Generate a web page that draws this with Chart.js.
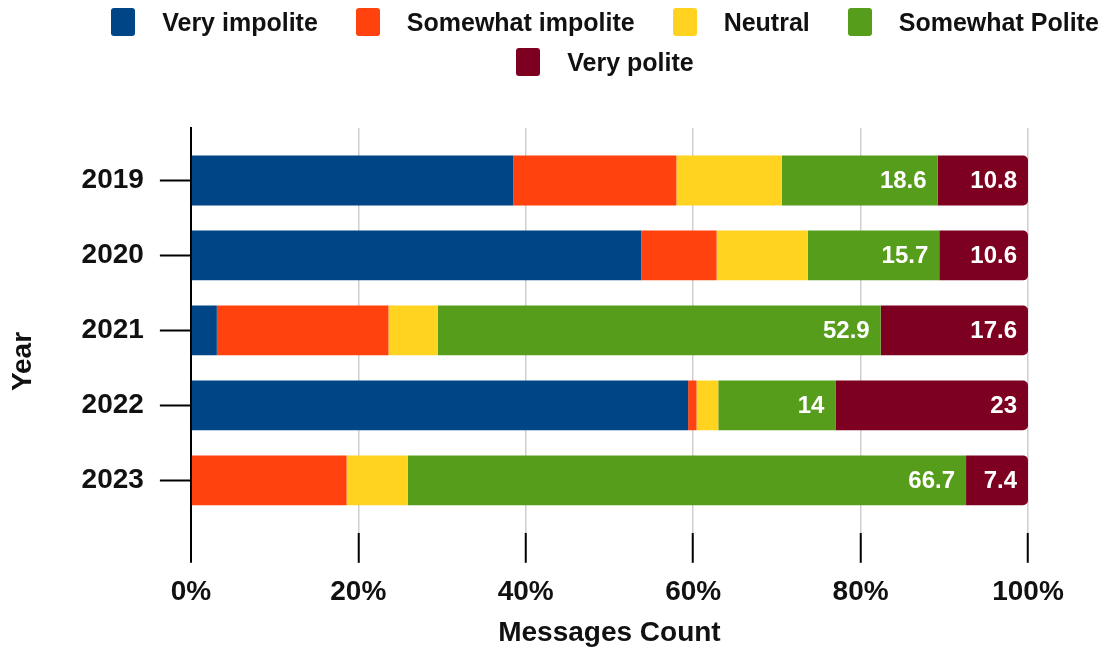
<!DOCTYPE html>
<html>
<head>
<meta charset="utf-8">
<script src="https://cdn.jsdelivr.net/npm/chart.js@4.4.1/dist/chart.umd.min.js"></script>
<style>
body{margin:0;background:#fff;font-family:"Liberation Sans",Arial,sans-serif}
#wrap{position:relative;width:1104px;height:653px}
#legend{position:absolute;top:8px;left:106px;width:998px;display:flex;flex-wrap:wrap;justify-content:center;column-gap:38px;row-gap:12px}
.item{display:flex;align-items:center;font-weight:bold;font-size:25px;color:#111;height:28px}
.box{width:24px;height:28px;border-radius:3px;margin-right:27px}
</style>
</head>
<body>
<div id="wrap">
<canvas id="chart"></canvas>
<div id="legend"></div>
</div>
<script>
const years=[2019,2020,2021,2022,2023]
const names=["Very impolite","Somewhat impolite","Neutral","Somewhat Polite","Very polite"]
const colors=["#004586","#ff420e","#ffd320","#579d1c","#7e0021"]

// share of messages per year, in percent
const veryImpolite=[38.5,53.8,3.1,59.4,0]
const somewhatImpolite=[19.5,9.0,20.5,1.0,18.6]
const neutral=[12.6,10.9,5.9,2.6,7.3]
const somewhatPolite=[18.6,15.7,52.9,14,66.7]
const veryPolite=[10.8,10.6,17.6,23,7.4]

const xTicks=[0,20,40,60,80,100]

const series=[veryImpolite,somewhatImpolite,neutral,somewhatPolite,veryPolite]
// only the two polite groups get a number on the bar
const labelled=[3,4]

Chart.defaults.font.family='"Liberation Sans", Arial, sans-serif'
Chart.defaults.color="#111"

// legend as plain html
let lg=""
names.forEach((n,i)=>{
lg+=`<div class="item"><div class="box" style="background:${colors[i]}"></div>${n}</div>`
})
document.getElementById("legend").innerHTML=lg

const barLabels={
id:"barLabels",
afterDatasetsDraw(chart){
const ctx=chart.ctx
ctx.save()
ctx.font="bold 24px 'Liberation Sans', Arial, sans-serif"
ctx.fillStyle="#fff"
ctx.textAlign="right"
ctx.textBaseline="middle"
labelled.forEach(d=>{
chart.getDatasetMeta(d).data.forEach((bar,i)=>{
ctx.fillText(String(series[d][i]),bar.x-11,bar.y+1)
})
})
ctx.restore()
}
}

const axisFont={size:28,weight:"bold"}

new Chart(document.getElementById("chart"),{
type:"bar",
data:{
labels:years,
datasets:series.map((s,i)=>({
label:names[i],
data:s,
backgroundColor:colors[i],
borderWidth:0,
borderRadius:i===4?5:0,
borderSkipped:"start",
barPercentage:0.665,
categoryPercentage:1
}))
},
options:{
indexAxis:"y",
responsive:true,
maintainAspectRatio:false,
animation:false,
layout:{padding:{top:128,right:76,left:0,bottom:0}},
plugins:{
legend:{display:false},
tooltip:{enabled:false}
},
scales:{
x:{
stacked:true,
min:0,
max:100,
afterBuildTicks:s=>{s.ticks=xTicks.map(v=>({value:v}))},
ticks:{font:axisFont,color:"#111",padding:13,callback:v=>v+"%"},
grid:{
color:c=>c.tick&&c.tick.value===0?"#000":"#cfcfcf",
lineWidth:c=>c.tick&&c.tick.value===0?2:1.5,
tickColor:"#000",
tickWidth:2,
tickLength:30
},
border:{display:false},
title:{display:true,text:"Messages Count",font:axisFont,color:"#111",padding:{top:-6,bottom:3}}
},
y:{
type:"linear",
stacked:true,
reverse:true,
offset:false,
min:2018.3,
max:2023.7,
afterBuildTicks:s=>{s.ticks=years.map(v=>({value:v}))},
ticks:{font:axisFont,color:"#111",padding:16,callback:v=>String(v)},
grid:{
offset:false,
drawOnChartArea:false,
tickColor:"#000",
tickWidth:2,
tickLength:31
},
border:{display:true,color:"#000",width:2},
// trailing spaces push the word a little below the middle of the axis
title:{display:true,text:"Year        ",font:axisFont,color:"#111",padding:{top:6,bottom:26}}
}
}
},
plugins:[barLabels]
})
</script>
</body>
</html>
